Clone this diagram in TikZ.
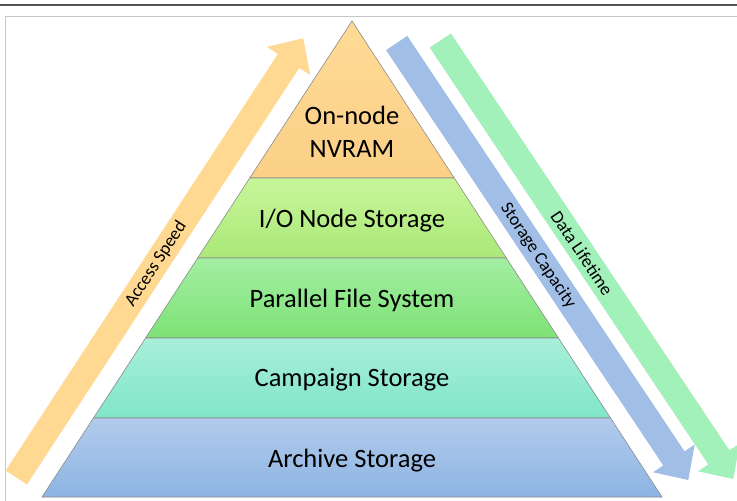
\documentclass[tikz,border=0pt]{standalone}
\usepackage{fontspec}
\setmainfont{Carlito}
\begin{document}
\begin{tikzpicture}[x=1pt,y=-1pt,
  layer/.style={draw=black!45, line width=0.6pt},
  lbl/.style={font=\fontsize{26.5}{33.3}\selectfont, text=black, inner sep=0pt},
  albl/.style={font=\fontsize{18}{20}\selectfont, text=black, inner sep=0pt},
  band/.style={draw=none}]
\definecolor{orA}{RGB}{255,219,150}
\definecolor{orB}{RGB}{251,207,134}
\definecolor{ioA}{RGB}{200,246,154}
\definecolor{ioB}{RGB}{170,232,120}
\definecolor{pfA}{RGB}{162,238,162}
\definecolor{pfB}{RGB}{126,226,118}
\definecolor{caA}{RGB}{168,239,216}
\definecolor{caB}{RGB}{128,229,200}
\definecolor{arA}{RGB}{178,203,236}
\definecolor{arB}{RGB}{140,180,226}
\definecolor{arrowOr}{RGB}{255,216,146}
\definecolor{arrowBl}{RGB}{161,191,230}
\definecolor{arrowGr}{RGB}{162,240,186}
\useasboundingbox (0,0) rectangle (737,501);
% frame
\draw[line width=2.4pt, black!68] (0,4.7) -- (737,4.7);
\draw[line width=0.9pt, black!22] (5.3,501) -- (5.3,16) -- (737,16);
% arrows
\fill[arrowOr] (5.62,470.54) -- (277.92,53.94) -- (267.02,46.84) -- (303.3,38.3)
  -- (310.18,74.96) -- (299.28,67.86) -- (26.98,484.46) -- cycle;
\fill[arrowBl] (386.1,50.1) -- (407.3,35.9) -- (684.48,451.29) -- (694.67,444.49)
  -- (688.3,480) -- (653.07,472.25) -- (663.26,465.45) -- cycle;
\fill[arrowGr] (429.7,47.58) -- (450.9,33.42) -- (729.45,450.30) -- (739.64,443.49)
  -- (733.3,479) -- (698.06,471.27) -- (708.25,464.46) -- cycle;
% pyramid layers
\shade[layer, top color=orA, bottom color=orB] (352,21) -- (454.25,178) -- (249.75,178) -- cycle;
\shade[layer, top color=ioA, bottom color=ioB] (249.75,178) -- (454.25,178) -- (506.35,258) -- (197.65,258) -- cycle;
\shade[layer, top color=pfA, bottom color=pfB] (197.65,258) -- (506.35,258) -- (558.45,338) -- (145.55,338) -- cycle;
\shade[layer, top color=caA, bottom color=caB] (145.55,338) -- (558.45,338) -- (610.55,418) -- (93.45,418) -- cycle;
\shade[layer, top color=arA, bottom color=arB] (93.45,418) -- (610.55,418) -- (662,497) -- (42,497) -- cycle;
% labels
\node[lbl, align=center] (nvram) at (352,132) {On-node\\NVRAM};
\node[lbl, anchor=base] (io) at (352,227.3) {I/O Node Storage};
\node[lbl, anchor=base] (pfs) at (352,307.3) {Parallel File System};
\node[lbl, anchor=base] (camp) at (352,386.7) {Campaign Storage};
\node[lbl, anchor=base] (arch) at (352,467.3) {Archive Storage};
\node[albl, rotate=56.9] (speed) at (156,264) {Access Speed};
\node[albl, rotate=-56.3] (cap) at (538,256) {Storage Capacity};
\node[albl, rotate=-56.3] (life) at (582,253) {Data Lifetime};
\end{tikzpicture}
\end{document}
